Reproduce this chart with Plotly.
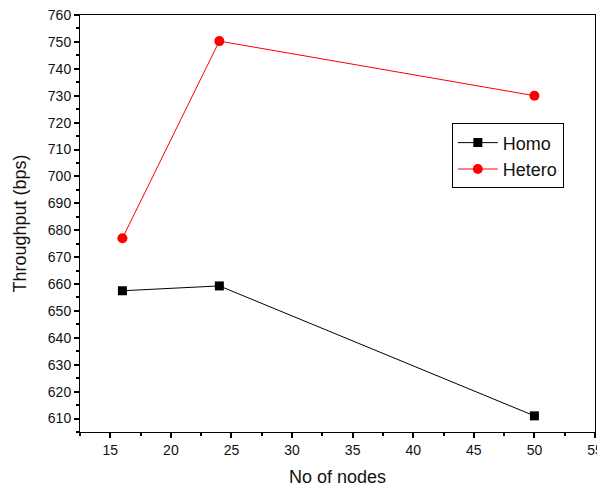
import plotly.graph_objects as go

nodes = [16, 24, 50]
homo = [657.5, 659.3, 611.0]
hetero = [677.0, 750.3, 730.0]

fig = go.Figure()
fig.add_trace(go.Scatter(x=nodes, y=homo, mode="lines+markers", name="Homo",
                         line=dict(color="black", width=1),
                         marker=dict(symbol="square", size=9, color="black")))
fig.add_trace(go.Scatter(x=nodes, y=hetero, mode="lines+markers", name="Hetero",
                         line=dict(color="red", width=1),
                         marker=dict(symbol="circle", size=10, color="red")))

axis_common = dict(showgrid=False, zeroline=False, showline=True, linecolor="black",
                   linewidth=1, mirror=True, ticks="outside", ticklen=5, tickwidth=1.5,
                   tickcolor="black", automargin=False, ticklabeloverflow="allow",
                   tickfont=dict(family="Liberation Sans, Arial", size=14, color="#111"))

# page body has an 8px margin, so the figure is sized to fit the 605x495 window
fig.update_layout(
    width=597, height=479,
    margin=dict(l=72, r=10, t=7, b=55),
    plot_bgcolor="white", paper_bgcolor="white",
    font=dict(family="Liberation Sans, Arial", size=14, color="#111"),
    xaxis=dict(range=[12.5, 55], tick0=15, dtick=5,
               minor=dict(dtick=2.5, tick0=12.5, ticks="outside", ticklen=3, tickcolor="black"),
               title=dict(text="No of nodes", font=dict(size=18), standoff=18),
               **axis_common),
    yaxis=dict(range=[605, 760], tick0=610, dtick=10,
               minor=dict(dtick=5, tick0=605, ticks="outside", ticklen=3, tickcolor="black"),
               title=dict(text="Throughput (bps)", font=dict(size=18), standoff=16),
               **axis_common),
    legend=dict(x=0.722, y=0.74, xanchor="left", yanchor="top",
                bordercolor="black", borderwidth=1, bgcolor="white",
                font=dict(size=18, color="#111"), tracegroupgap=0, itemwidth=40),
    showlegend=True,
)

fig.write_html("out.html")
